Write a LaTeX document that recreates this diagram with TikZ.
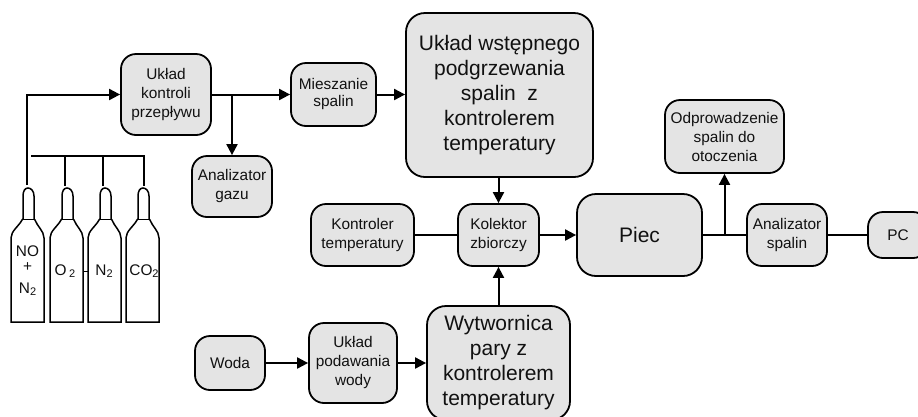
\documentclass[tikz,border=0pt]{standalone}
\usepackage{fontspec}
\setmainfont{Liberation Sans}
\usetikzlibrary{arrows.meta}
\definecolor{boxfill}{HTML}{E4E4E4}
\definecolor{ink}{HTML}{111111}
\newcommand{\smalltext}{\fontsize{15.4}{19}\selectfont}
\newcommand{\bigtext}{\fontsize{21}{25}\selectfont}
\newcommand{\subtwo}{\raisebox{-2.5pt}{\fontsize{11}{11}\selectfont 2}}
\tikzset{
  block/.style={draw=black,line width=1.8pt,fill=boxfill,rounded corners=15pt,inner sep=0pt,align=center,text=ink,font=\smalltext},
  bigblock/.style={block,font=\bigtext,rounded corners=19pt},
  lower/.style={execute at begin node={\rule{0pt}{1.03em}}},
  wire/.style={draw=black,line width=2pt},
  arrow/.style={wire,-{Triangle[length=11pt,width=11pt]}},
  gastext/.style={inner sep=0pt,text=ink,align=center,font=\smalltext},
  cyl/.style={draw=black,line width=1.5pt,fill=white}
}
% #1 name, #2 x0, #3 y0, #4 x1, #5 y1, #6 style, #7 text
\newcommand{\blk}[7]{\node[#6,minimum width={(#4-#2)*1pt},minimum height={(#5-#3)*1pt}] (#1) at ({(#2+#4)/2},{(#3+#5)/2}) {#7};}
% #1 left x
\newcommand{\cylinder}[1]{
  \draw[cyl] (#1,322) -- (#1,238) .. controls (#1,231) and ({#1+8},226) .. ({#1+11},220)
    -- ({#1+12},219) -- ({#1+12},196) .. controls ({#1+12},191) and ({#1+14},188) .. ({#1+17},188)
    .. controls ({#1+20},188) and ({#1+23},191) .. ({#1+23},196) -- ({#1+23},219)
    -- ({#1+24},220) .. controls ({#1+26},226) and ({#1+33},231) .. ({#1+33},238) -- ({#1+33},322) -- cycle;
  \draw[line width=1.5pt] ({#1+11},219.5) -- ({#1+24},219.5);
}
\begin{document}
\begin{tikzpicture}[x=1pt,y=-1pt]
\useasboundingbox (0,0) rectangle (918,416);
\begin{scope}
\clip (0,0) rectangle (918,416);
\blk{kontrola}{121}{54}{211}{135}{block,lower}{Układ\\kontroli\\przepływu}
\blk{gaz}{192}{156}{272}{217}{block,lower}{Analizator\\gazu}
\blk{miesz}{291}{63}{376}{126}{block,lower,font=\fontsize{15.4}{17}\selectfont}{Mieszanie\\spalin}
\blk{wstep}{406}{13}{593}{177}{bigblock,lower}{Układ wstępnego\\podgrzewania\\spalin~~z\\kontrolerem\\temperatury}
\blk{kol}{458}{204}{539}{266}{block,lower}{Kolektor\\zbiorczy}
\blk{kontr}{311}{204}{414}{266}{block,lower}{Kontroler\\temperatury}
\blk{wyt}{427}{306}{570}{420}{bigblock,lower}{Wytwornica\\pary z\\kontrolerem\\temperatury}
\blk{woda}{195}{336}{265}{390}{block}{Woda}
\blk{podaw}{309}{323}{397}{403}{block,lower}{Układ\\podawania\\wody}
\blk{piec}{577}{194}{702}{276}{bigblock}{Piec}
\blk{odpr}{665}{100}{784}{173}{block}{Odprowadzenie\\spalin do\\otoczenia}
\blk{anal}{747}{204}{827}{266}{block,lower}{Analizator\\spalin}
\blk{pc}{868}{212}{928}{258}{block}{PC}
\end{scope}
% cylinders
\cylinder{11}
\cylinder{50}
\cylinder{88}
\cylinder{126}
\node[gastext] (t1a) at (27.5,251) {NO};
\node[gastext] (t1b) at (27.5,267) {+};
\node[gastext] (t1c) at (27.5,289) {N\subtwo};
\node[gastext] (t2) at (65,271) {O\,\subtwo};
\node[gastext] (t3) at (104,271) {N\subtwo};
\node[gastext] (t4) at (144,271) {CO\subtwo};
% free ends
\coordinate (n1) at (27,185);
\coordinate (corner) at (27,94.5);
\coordinate (m0) at (31,156);
\coordinate (m2) at (65,156);
\coordinate (m3) at (103,156);
\coordinate (m4) at (144,156);
\coordinate (n2) at (65,186);
\coordinate (n3) at (103,186);
\coordinate (n4) at (144,186);
\coordinate (j1) at (gaz.north |- kontrola.east);
\coordinate (j2) at (odpr.south |- piec.east);
\coordinate (l23a) at (83,271);
\coordinate (l23b) at (88,271);
% connectors
\draw[arrow] (n1) -- (corner) -- (kontrola.west);
\draw[wire] (m0) -- (m4) -- (n4);
\draw[wire] (m2) -- (n2);
\draw[wire] (m3) -- (n3);
\draw[line width=0.8pt] (l23a) -- (l23b);
\draw[arrow] (kontrola.east) -- (miesz.west);
\draw[arrow] (j1) -- (gaz.north);
\draw[arrow] (miesz.east) -- (wstep.west |- miesz.east);
\draw[arrow] (kol.north |- wstep.south) -- (kol.north);
\draw[wire] (kontr.east) -- (kol.west);
\draw[arrow] (kol.east) -- (piec.west);
\draw[arrow] (kol.south |- wyt.north) -- (kol.south);
\draw[arrow] (woda.east) -- (podaw.west |- woda.east);
\draw[arrow] (podaw.east |- woda.east) -- (wyt.west |- woda.east);
\draw[wire] (piec.east) -- (anal.west);
\draw[arrow] (j2) -- (odpr.south);
\draw[wire] (anal.east) -- (pc.west);
\end{tikzpicture}
\end{document}
